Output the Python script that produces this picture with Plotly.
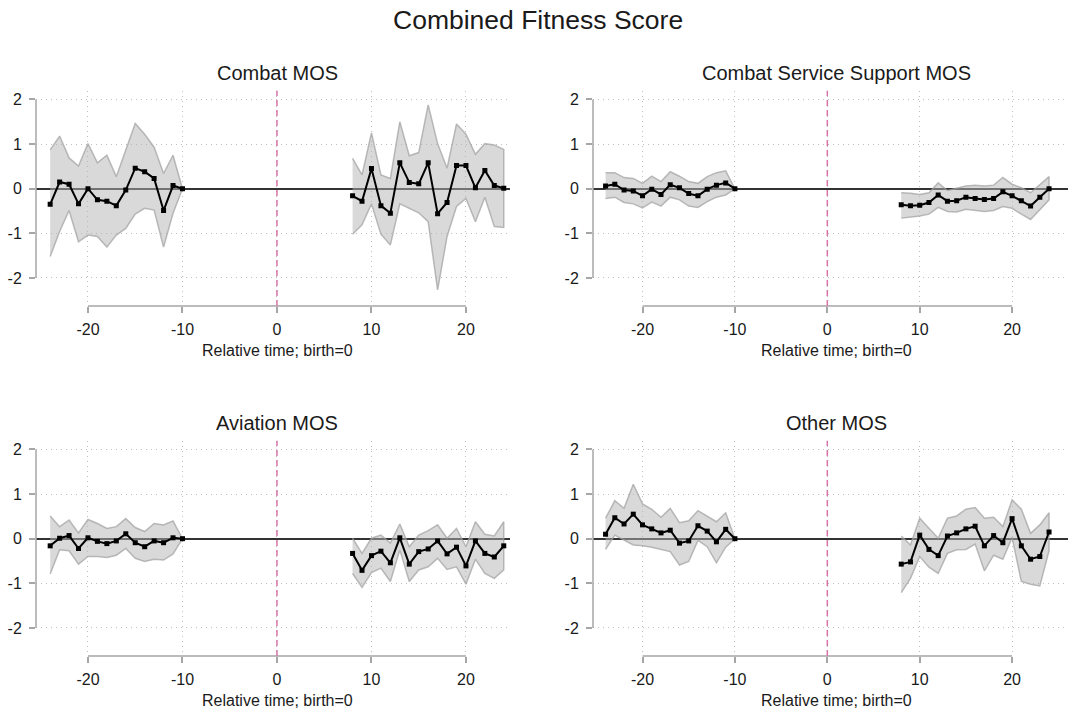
import plotly.graph_objects as go

# ---------------- data ----------------
x_pre = list(range(-24, -9))      # -24 .. -10
x_post = list(range(8, 25))       # 8 .. 24

panel_titles = ["Combat MOS", "Combat Service Support MOS", "Aviation MOS", "Other MOS"]

# Combat MOS
combat_est = [-0.35, 0.15, 0.10, -0.34, 0.00, -0.25, -0.28, -0.38, -0.03, 0.46, 0.38, 0.23, -0.49, 0.07, 0.00,
              -0.16, -0.28, 0.45, -0.38, -0.55, 0.58, 0.14, 0.11, 0.58, -0.56, -0.31, 0.52, 0.52, 0.02, 0.41, 0.07, 0.01]
combat_hi = [0.87, 1.18, 0.69, 0.51, 1.01, 0.58, 0.75, 0.27, 0.87, 1.46, 1.22, 0.93, 0.34, 0.75, 0.00,
             0.68, 0.31, 1.25, 0.31, 0.23, 1.50, 0.74, 0.81, 1.88, 1.01, 0.46, 1.45, 1.22, 0.77, 1.01, 0.98, 0.88]
combat_lo = [-1.52, -0.96, -0.49, -1.19, -1.04, -1.07, -1.31, -1.04, -0.89, -0.57, -0.44, -0.48, -1.31, -0.55, 0.00,
             -1.02, -0.81, -0.34, -1.02, -1.26, -0.34, -0.44, -0.54, -0.74, -2.27, -1.07, -0.40, -0.22, -0.74, -0.19, -0.85, -0.87]

# Combat Service Support MOS
css_est = [0.06, 0.10, -0.03, -0.05, -0.16, -0.01, -0.13, 0.09, 0.02, -0.11, -0.16, -0.01, 0.08, 0.13, 0.00,
           -0.36, -0.38, -0.37, -0.31, -0.14, -0.28, -0.27, -0.19, -0.22, -0.24, -0.22, -0.07, -0.16, -0.27, -0.39, -0.19, 0.00]
css_hi = [0.36, 0.36, 0.25, 0.23, 0.12, 0.28, 0.16, 0.38, 0.28, 0.16, 0.12, 0.27, 0.36, 0.40, 0.00,
          -0.09, -0.10, -0.13, -0.09, 0.13, -0.04, 0.01, 0.06, 0.08, 0.06, 0.08, 0.25, 0.10, 0.02, -0.09, 0.10, 0.27]
css_lo = [-0.22, -0.19, -0.31, -0.34, -0.43, -0.30, -0.39, -0.19, -0.25, -0.39, -0.42, -0.29, -0.19, -0.14, 0.00,
          -0.66, -0.64, -0.61, -0.57, -0.42, -0.51, -0.52, -0.46, -0.49, -0.51, -0.49, -0.40, -0.44, -0.57, -0.69, -0.48, -0.25]

# Aviation MOS
avi_est = [-0.16, 0.01, 0.07, -0.22, 0.02, -0.06, -0.11, -0.05, 0.11, -0.09, -0.18, -0.05, -0.09, 0.02, 0.00,
           -0.33, -0.71, -0.38, -0.28, -0.54, 0.02, -0.57, -0.29, -0.23, -0.05, -0.34, -0.19, -0.61, -0.05, -0.33, -0.41, -0.16]
avi_hi = [0.51, 0.27, 0.42, 0.13, 0.43, 0.34, 0.23, 0.27, 0.45, 0.25, 0.16, 0.34, 0.31, 0.40, 0.00,
          0.01, -0.33, 0.01, 0.08, -0.10, 0.33, -0.18, 0.08, 0.18, 0.31, 0.01, 0.23, -0.18, 0.38, 0.10, 0.06, 0.38]
avi_lo = [-0.79, -0.25, -0.27, -0.57, -0.40, -0.40, -0.42, -0.37, -0.22, -0.44, -0.51, -0.46, -0.48, -0.34, 0.00,
          -0.78, -1.09, -0.76, -0.66, -0.96, -0.25, -0.96, -0.70, -0.63, -0.44, -0.69, -0.63, -1.02, -0.46, -0.78, -0.89, -0.70]

# Other MOS
oth_est = [0.10, 0.47, 0.33, 0.55, 0.31, 0.22, 0.13, 0.19, -0.10, -0.05, 0.29, 0.17, -0.07, 0.21, 0.00,
           -0.57, -0.52, 0.08, -0.24, -0.38, 0.06, 0.13, 0.22, 0.28, -0.16, 0.07, -0.09, 0.45, -0.16, -0.46, -0.40, 0.15]
oth_hi = [0.46, 0.85, 0.68, 1.22, 0.78, 0.66, 0.48, 0.68, 0.36, 0.40, 0.63, 0.51, 0.38, 0.58, 0.00,
          0.06, -0.14, 0.46, 0.23, 0.01, 0.46, 0.51, 0.66, 0.70, 0.46, 0.48, 0.27, 0.87, 0.66, 0.12, 0.31, 0.58]
oth_lo = [-0.24, 0.08, -0.03, -0.14, -0.16, -0.19, -0.24, -0.29, -0.59, -0.51, -0.04, -0.18, -0.54, -0.19, 0.00,
          -1.21, -0.89, -0.40, -0.64, -0.78, -0.33, -0.25, -0.24, -0.12, -0.72, -0.37, -0.46, 0.03, -0.96, -1.02, -1.06, -0.27]

x_ticks = [-20, -10, 0, 10, 20]
x_tick_labels = ["-20", "-10", "0", "10", "20"]
y_ticks = [-2, -1, 0, 1, 2]
y_tick_labels = ["-2", "-1", "0", "1", "2"]

panels = [
    (combat_est, combat_hi, combat_lo),
    (css_est, css_hi, css_lo),
    (avi_est, avi_hi, avi_lo),
    (oth_est, oth_hi, oth_lo),
]

# ---------------- layout geometry ----------------
W, H = 1068, 711
FONT = "Arial, Liberation Sans, sans-serif"
TXT = "#1a1a1a"
AX_COL = "#a6a6a6"
GRID_COL = "#bdbdbd"

col_geo = [((36, 510), (-25.5, 24.66)), ((593, 1068), (-25.36, 26.05))]
row_geo = [(90.7, 306.0), (440.7, 656.0)]
y_range = (-2.63, 2.197)
title_centers_x = [277, 836]
title_y = [73.3, 422.7]
xtitle_y = [350, 700]

fig = go.Figure()
n_pre = len(x_pre)

layout = dict(
    width=W, height=H,
    margin=dict(l=0, r=0, t=0, b=0),
    paper_bgcolor="white", plot_bgcolor="white",
    showlegend=False,
    font=dict(family=FONT, color=TXT),
)
shapes = []
annotations = []

for i, (est, hi, lo) in enumerate(panels):
    r, c = divmod(i, 2)
    (px0, px1), xr = col_geo[c]
    py0, py1 = row_geo[r]
    k = "" if i == 0 else str(i + 1)
    xa, ya = "x" + k, "y" + k
    layout["xaxis" + k] = dict(
        domain=[px0 / W, px1 / W], range=list(xr), anchor=ya,
        tickvals=x_ticks, ticktext=x_tick_labels,
        ticks="outside", ticklen=6, tickwidth=1.5, tickcolor=AX_COL,
        showline=False, zeroline=False,
        showgrid=True, gridcolor=GRID_COL, griddash="1px,4px", gridwidth=1,
        tickfont=dict(size=16, family=FONT, color=TXT),
        ticklabelstandoff=3, fixedrange=True,
    )
    layout["yaxis" + k] = dict(
        domain=[1 - py1 / H, 1 - py0 / H], range=list(y_range), anchor=xa,
        tickvals=y_ticks, ticktext=y_tick_labels,
        ticks="outside", ticklen=6, tickwidth=1.5, tickcolor=AX_COL,
        showline=False,
        zeroline=True, zerolinecolor="#333333", zerolinewidth=2.2,
        showgrid=True, gridcolor=GRID_COL, griddash="1px,4px", gridwidth=1,
        tickfont=dict(size=16, family=FONT, color=TXT),
        ticklabelstandoff=4, fixedrange=True,
    )
    # axis lines spanning tick range only (Stata style)
    shapes.append(dict(type="line", xref=xa + " domain", yref=ya, x0=0, x1=0, y0=-2, y1=2,
                       line=dict(color=AX_COL, width=1.5), layer="above"))
    shapes.append(dict(type="line", xref=xa, yref=ya + " domain", x0=-20, x1=20, y0=0, y1=0,
                       line=dict(color=AX_COL, width=1.5), layer="above"))
    # birth reference line
    shapes.append(dict(type="line", xref=xa, yref=ya + " domain", x0=0, x1=0, y0=0, y1=1,
                       line=dict(color="#d673a8", width=1.5, dash="6px,4px"), layer="above"))

    segs = [(x_pre, slice(0, n_pre)), (x_post, slice(n_pre, None))]
    for xs, sl in segs:
        e, h, l = est[sl], hi[sl], lo[sl]
        fig.add_trace(go.Scatter(
            x=list(xs) + list(xs)[::-1], y=list(h) + list(l)[::-1],
            xaxis=xa, yaxis=ya, mode="lines", fill="toself",
            fillcolor="rgba(180,180,180,0.5)",
            line=dict(color="rgba(160,160,160,0.7)", width=1.5),
            hoverinfo="skip",
        ))
        fig.add_trace(go.Scatter(
            x=xs, y=e, xaxis=xa, yaxis=ya, mode="lines+markers",
            line=dict(color="black", width=2),
            marker=dict(symbol="square", size=5, color="black"),
        ))

    annotations.append(dict(text=panel_titles[i], xref="paper", yref="paper",
                            x=title_centers_x[c] / W, y=1 - title_y[r] / H,
                            xanchor="center", yanchor="middle", showarrow=False,
                            font=dict(size=20, family=FONT, color=TXT)))
    annotations.append(dict(text="Relative time; birth=0", xref="paper", yref="paper",
                            x=title_centers_x[c] / W, y=1 - xtitle_y[r] / H,
                            xanchor="center", yanchor="middle", showarrow=False,
                            font=dict(size=16, family=FONT, color=TXT)))

annotations.append(dict(text="Combined Fitness Score", xref="paper", yref="paper",
                        x=538 / W, y=1 - 20 / H, xanchor="center", yanchor="middle",
                        showarrow=False, font=dict(size=26.5, family=FONT, color=TXT)))

layout["shapes"] = shapes
layout["annotations"] = annotations
fig.update_layout(**layout)

fig.write_html("out.html")
